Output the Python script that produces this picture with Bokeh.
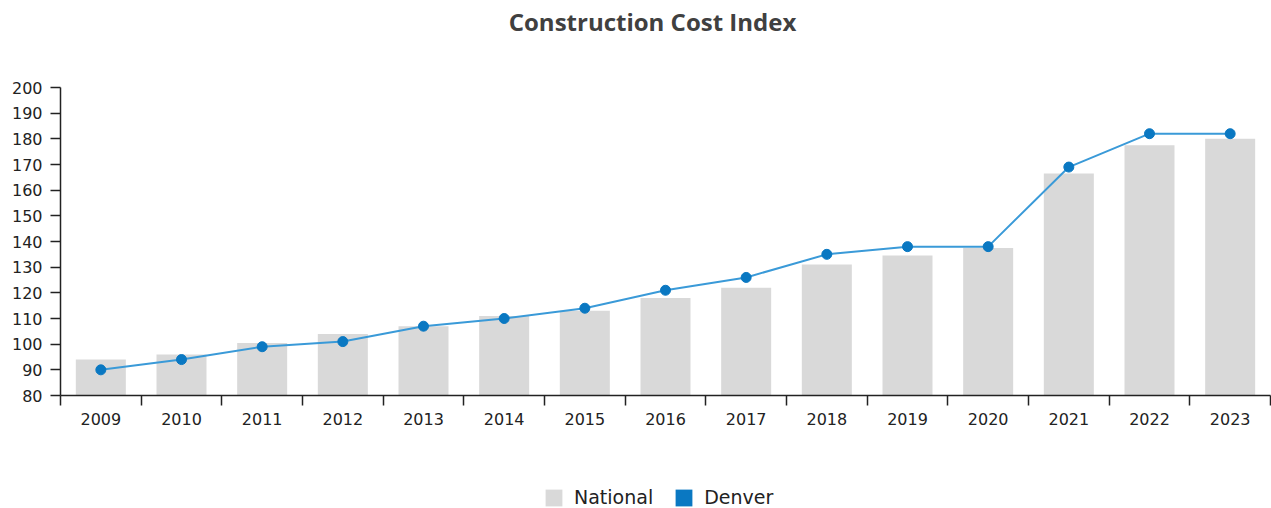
from bokeh.plotting import figure
from bokeh.models import FixedTicker, Range1d, Legend, LegendItem, Label
from bokeh.layouts import column
from bokeh.embed import file_html
from bokeh.resources import INLINE

title_text = "Construction Cost Index"
years = ["2009", "2010", "2011", "2012", "2013", "2014", "2015", "2016",
         "2017", "2018", "2019", "2020", "2021", "2022", "2023"]
national = [94, 96, 100.5, 104, 107, 111, 113, 118, 122, 131, 134.5, 137.5, 166.5, 177.5, 180]
denver = [90, 94, 99, 101, 107, 110, 114, 121, 126, 135, 138, 138, 169, 182, 182]
y_ticks = [80, 90, 100, 110, 120, 130, 140, 150, 160, 170, 180, 190, 200]
series_names = ["National", "Denver"]
series_colors = ["#d9d9d9", "#0a78c2"]

n = len(years)
xs = [i + 0.5 for i in range(n)]
bounds = list(range(n + 1))

# title strip
tf = figure(width=1271, height=45, output_backend="svg", toolbar_location=None,
            x_range=Range1d(0, 1), y_range=Range1d(0, 1),
            min_border_left=0, min_border_right=0, min_border_top=0, min_border_bottom=0)
tf.axis.visible = False
tf.grid.visible = False
tf.outline_line_color = None
tf.add_layout(Label(x=592, y=24, x_units="screen", y_units="screen", text=title_text,
                    text_font="Open Sans", text_font_size="24px", text_font_style="bold",
                    text_color="#404040", text_align="center", text_baseline="alphabetic"))

p = figure(width=1271, height=425, output_backend="svg", toolbar_location=None,
           x_range=Range1d(0, n), y_range=Range1d(y_ticks[0], y_ticks[-1]),
           min_border_left=60, min_border_right=1, min_border_top=42, min_border_bottom=75)
p.outline_line_color = None
p.grid.visible = False

p.vbar(x=xs, top=national, bottom=y_ticks[0], width=0.62,
       fill_color=series_colors[0], line_color=None)
p.line(xs, denver, line_color="#3a9ad8", line_width=2)
p.scatter(xs, denver, size=10, fill_color=series_colors[1], line_color=series_colors[1])

# axes
ax = p.xaxis[0]
ax.ticker = FixedTicker(ticks=xs, minor_ticks=bounds)
ax.major_label_overrides = {x: y for x, y in zip(xs, years)}
ax.major_tick_out = 0
ax.major_tick_in = 0
ax.minor_tick_out = 10
ax.minor_tick_in = 0
ax.minor_tick_line_color = "#222222"
ax.minor_tick_line_width = 1.5
ax.axis_line_color = "#222222"
ax.axis_line_width = 1.5
ax.major_label_standoff = 7
ax.major_label_text_font = "DejaVu Sans"
ax.major_label_text_font_size = "16px"
ax.major_label_text_color = "#222222"

ay = p.yaxis[0]
ay.ticker = FixedTicker(ticks=y_ticks, minor_ticks=[])
ay.major_tick_out = 10
ay.major_tick_in = 0
ay.major_tick_line_color = "#222222"
ay.major_tick_line_width = 1.5
ay.axis_line_color = "#222222"
ay.axis_line_width = 1.5
ay.major_label_standoff = 8
ay.major_label_text_font = "DejaVu Sans"
ay.major_label_text_font_size = "16px"
ay.major_label_text_color = "#222222"

# legend strip
lf = figure(width=1271, height=38, output_backend="svg", toolbar_location=None,
            x_range=Range1d(0, 1), y_range=Range1d(0, 1),
            min_border_left=0, min_border_right=0, min_border_top=0, min_border_bottom=0)
lf.axis.visible = False
lf.grid.visible = False
lf.outline_line_color = None
sw = [lf.vbar(x=[-5], top=[0], bottom=[0], width=0.1, fill_color=c, line_color=None)
      for c in series_colors]
legend = Legend(items=[LegendItem(label=nm, renderers=[r]) for nm, r in zip(series_names, sw)],
                orientation="horizontal", location=(483, 0),
                border_line_color=None, background_fill_alpha=0,
                label_text_font="DejaVu Sans", label_text_font_size="19px",
                label_text_color="#222222", label_standoff=10,
                glyph_width=21, glyph_height=21, spacing=20, margin=0, padding=0)
lf.add_layout(legend, "center")

open("out.html", "w").write(file_html(column(tf, p, lf, spacing=0), INLINE))
